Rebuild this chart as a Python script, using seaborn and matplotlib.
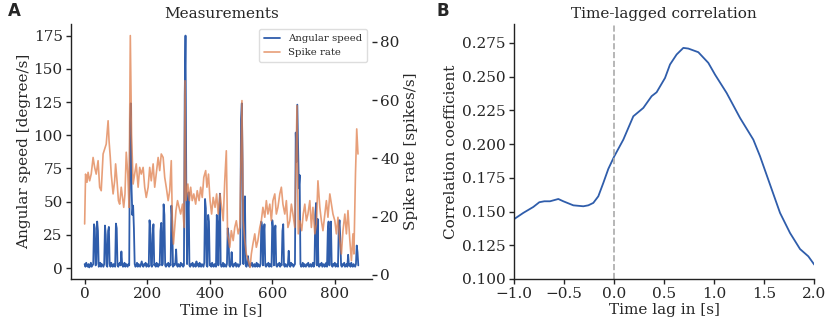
import numpy as np
import pandas as pd
import matplotlib
matplotlib.use("Agg")
import matplotlib.pyplot as plt
import seaborn as sns

# ---------------- data ----------------
# Angular speed sampled every 2.5 s (0 .. 875 s)
angular_speed = [
    3, 1, 4, 2, 1, 3, 0.5, 2, 4, 1,
    2, 3, 33, 30, 2, 3, 35, 28, 1, 2,
    4, 1, 3, 2, 1, 3, 32, 25, 2, 1,
    28, 31, 3, 1, 4, 2, 1, 3, 2, 1,
    33.5, 30, 2, 1, 3, 4, 2, 12.5, 3, 1,
    2, 4, 1, 3, 2, 1, 3, 2, 110, 124,
    60, 40, 47, 30, 3, 1, 2, 4, 1, 3,
    2, 1, 3, 5, 2, 1, 3, 2, 4, 1,
    2, 3, 1, 36, 30, 2, 1, 25, 33, 2,
    3, 1, 4, 2, 1, 3, 2, 28, 34, 2,
    3, 48, 40, 2, 1, 3, 2, 4, 1, 3,
    2, 47, 35, 1, 3, 2, 4, 14, 2, 1,
    3, 2, 1, 4, 2, 3, 1, 2, 130, 175,
    60, 3, 40, 57, 2, 1, 3, 2, 4, 1,
    2, 3, 1, 5, 2, 3, 1, 4, 2, 1,
    3, 2, 1, 4, 52, 45, 2, 1, 40, 35,
    2, 3, 1, 4, 2, 1, 3, 2, 1, 40,
    32, 2, 38, 56, 3, 1, 2, 4, 1, 3,
    2, 1, 3, 30, 25, 2, 1, 3, 12, 2,
    1, 3, 2, 4, 1, 2, 3, 1, 2, 3,
    112, 124, 80, 3, 45, 54, 2, 1, 3, 9,
    2, 1, 3, 2, 4, 1, 2, 3, 1, 2,
    4, 1, 3, 2, 1, 3, 35, 30, 2, 25,
    33, 2, 1, 3, 2, 4, 1, 3, 2, 1,
    36, 30, 2, 25, 32, 2, 1, 3, 2, 4,
    1, 3, 2, 28, 33, 2, 1, 3, 2, 1,
    3, 13, 2, 1, 4, 2, 3, 1, 2, 3,
    102, 80, 123, 90, 60, 70, 3, 1, 2, 4,
    1, 3, 2, 1, 3, 2, 4, 1, 2, 3,
    1, 2, 4, 1, 3, 40, 49, 2, 37, 2,
    1, 3, 2, 4, 1, 2, 3, 1, 2, 4,
    1, 28, 35, 2, 25, 35, 2, 1, 3, 2,
    4, 1, 3, 2, 1, 30, 36, 22, 2, 1,
    3, 2, 4, 1, 2, 3, 1, 10, 2, 3,
    1, 4, 2, 1, 3, 2, 1, 3, 17, 12,
    2,
]
angular_time = np.arange(len(angular_speed)) * 2.5

spike_time = [
    0, 3, 7.5, 11, 16, 21, 27, 32, 37, 43, 48, 53, 59, 64, 69, 75, 78, 82, 85, 91,
    96, 99, 103.5, 108, 112, 117, 125, 129, 133, 138, 142, 146, 150, 155, 160, 165,
    171, 176, 181, 187, 192, 197, 203, 208, 213, 219, 224, 229, 235, 240, 245, 251,
    256, 261, 267, 272, 277, 281, 284, 292, 297, 302, 307, 313, 318, 321, 324, 330,
    335, 339, 344, 349, 355, 360, 366, 371, 376, 381, 387, 391, 396, 401, 406, 411,
    417, 422, 427, 433, 438, 443, 448, 453, 457, 464, 469, 475, 480, 485, 491, 496,
    503, 507, 512, 517, 523, 529, 533, 538, 544, 549, 554, 560, 565, 570, 576, 581,
    586, 592, 597, 602, 608, 613, 618, 624, 629, 634, 640, 645, 650, 656, 661, 666,
    672, 679, 683, 688, 694, 699, 704, 709, 714, 720, 725, 730, 736, 741, 746, 752,
    757, 762, 768, 773, 778, 784, 789, 794, 800, 805, 810, 816, 821, 826, 832, 837,
    842, 848, 853, 858, 861, 866, 870, 874,
]
spike_rate = [
    17.5, 34.6, 31.8, 35.2, 32.3, 34.6, 40.3, 36.9, 34.6, 39.2, 30.1, 28.9, 41.5, 43.2,
    44.9, 52.9, 46.1, 40.3, 34.6, 27.8, 32.3, 38.1, 32.3, 25.5, 24.3, 30.1, 23.2, 27.8,
    42.1, 34.6, 23.2, 82.1, 48.3, 31.2, 34.6, 38.1, 30.1, 36.9, 34.6, 36.9, 30.1, 26.6,
    30.1, 36.9, 32.3, 38.1, 30.1, 34.6, 40.3, 35.8, 41.5, 40.3, 33.5, 30.1, 25.5, 28.9,
    39.2, 15.2, 10.6, 22.1, 25.5, 23.2, 20.9, 24.3, 16.3, 66.6, 25.5, 31.2, 25.5, 30.1,
    25.5, 27.8, 24.3, 28.9, 25.5, 30.1, 26.6, 33.5, 35.8, 30.1, 34.6, 25.5, 20.9, 26.6,
    23.2, 27.8, 20.9, 27.8, 23.2, 18.6, 32.3, 42.6, 14.1, 9.5, 15.2, 11.8, 16.3, 18.6,
    14.1, 16.3, 59.8, 18.6, 11.8, 7.2, 4.9, 2.6, 7.2, 10.6, 14.1, 9.5, 11.8, 16.3,
    18.6, 23.2, 19.8, 25.5, 20.9, 24.3, 18.6, 25.5, 27.8, 20.9, 23.2, 27.8, 30.1, 24.3,
    20.9, 25.5, 16.3, 18.6, 24.3, 20.9, 16.3, 58.1, 14.1, 18.6, 15.2, 20.9, 24.3, 18.6,
    20.9, 25.5, 16.3, 23.2, 14.1, 17.5, 32.3, 23.2, 18.6, 15.2, 20.9, 25.5, 19.8, 27.8,
    24.3, 20.9, 18.6, 14.1, 19.8, 11.8, 7.2, 15.2, 20.9, 14.1, 22.1, 11.8, 4.9, 14.1,
    7.2, 34.6, 50.1, 41.5,
]

lag = [-1.0, -0.91, -0.81, -0.75, -0.70, -0.643, -0.56, -0.51, -0.41, -0.31, -0.26,
       -0.21, -0.16, -0.11, -0.06, 0.0, 0.09, 0.19, 0.29, 0.373, 0.423, 0.507, 0.557,
       0.623, 0.69, 0.74, 0.84, 0.94, 1.007, 1.123, 1.257, 1.39, 1.457, 1.557, 1.657,
       1.757, 1.857, 1.94, 2.0]
corr = [0.1445, 0.149, 0.1534, 0.1569, 0.1576, 0.1576, 0.1593, 0.1576, 0.1546, 0.1539,
        0.1546, 0.1564, 0.1613, 0.1712, 0.1816, 0.191, 0.2033, 0.2206, 0.2268, 0.2355,
        0.2384, 0.249, 0.259, 0.2664, 0.2713, 0.2708, 0.2681, 0.2602, 0.2515, 0.2379,
        0.2194, 0.2033, 0.191, 0.17, 0.149, 0.1341, 0.1222, 0.1168, 0.1106]

x_ticks_a = [0, 200, 400, 600, 800]
y_ticks_a = [0, 25, 50, 75, 100, 125, 150, 175]
y_ticks_spk = [0, 20, 40, 60, 80]
x_ticks_b = [-1.0, -0.5, 0.0, 0.5, 1.0, 1.5, 2.0]
y_ticks_b = [0.100, 0.125, 0.150, 0.175, 0.200, 0.225, 0.250, 0.275]

# ---------------- style ----------------
sns.set_theme(style="ticks")
plt.rcParams['font.family'] = ['DejaVu Serif']
plt.rcParams.update({
    'xtick.labelsize': 11, 'ytick.labelsize': 11, 'axes.labelsize': 11,
    'axes.titlesize': 11, 'xtick.major.size': 3.5, 'ytick.major.size': 3.5,
    'xtick.major.width': 1.0, 'ytick.major.width': 1.0, 'axes.linewidth': 1.0,
    'axes.edgecolor': '#222222', 'xtick.major.pad': 2.5, 'ytick.major.pad': 2.5,
})

BLUE = "#2f5dab"
ORANGE = "#e07f4c"

fig = plt.figure(figsize=(8.29, 3.27), dpi=100)
ax1 = fig.add_axes([0.0856, 0.1468, 0.3631, 0.7798])
ax3 = fig.add_axes([0.6204, 0.1468, 0.3619, 0.7798])
ax2 = ax1.twinx()

df_a = pd.DataFrame({"t": angular_time, "v": angular_speed})
df_s = pd.DataFrame({"t": spike_time, "v": spike_rate})
sns.lineplot(data=df_a, x="t", y="v", ax=ax1, color=BLUE, lw=1.3,
             estimator=None, sort=False, label="Angular speed", legend=False)
sns.lineplot(data=df_s, x="t", y="v", ax=ax2, color=ORANGE, lw=1.2, alpha=0.75,
             estimator=None, sort=False, label="Spike rate", legend=False)

ax1.set_xticks(x_ticks_a)
ax1.set_yticks(y_ticks_a)
ax2.set_yticks(y_ticks_spk)
ax1.set_xlabel("Time in [s]", labelpad=1)
ax1.set_ylabel("Angular speed [degree/s]", labelpad=2)
ax2.set_ylabel("Spike rate [spikes/s]", labelpad=3)
ax1.set_title("Measurements", pad=4)
for s in ["top", "right"]:
    ax1.spines[s].set_visible(False)
for s in ax2.spines.values():
    s.set_visible(False)

h1, l1 = ax1.get_legend_handles_labels()
h2, l2 = ax2.get_legend_handles_labels()
ax2.legend(h1 + h2, l1 + l2, loc="upper right", fontsize=7.3, frameon=True,
           framealpha=1, edgecolor="#dddddd", fancybox=True, borderpad=0.5,
           handlelength=1.5)

sns.lineplot(x=lag, y=corr, ax=ax3, color=BLUE, lw=1.3, estimator=None, sort=False)
ax3.axvline(0, color="#aaaaaa", ls="--", lw=1.2)
ax3.set_xlim(-1.0, 2.0)
ax3.set_ylim(0.1, 0.289)
ax3.set_xticks(x_ticks_b)
ax3.set_yticks(y_ticks_b)
ax3.set_yticklabels([f"{v:.3f}" for v in y_ticks_b])
ax3.set_xlabel("Time lag in [s]", labelpad=1)
ax3.set_ylabel("Correlation coefficient", labelpad=3)
ax3.set_title("Time-lagged correlation", pad=4)
sns.despine(ax=ax3)

fig.text(0.010, 0.965, "A", fontsize=12, fontweight="bold", family="DejaVu Sans", va="center")
fig.text(0.527, 0.965, "B", fontsize=12, fontweight="bold", family="DejaVu Sans", va="center")

fig.savefig("out.png", dpi=100)
